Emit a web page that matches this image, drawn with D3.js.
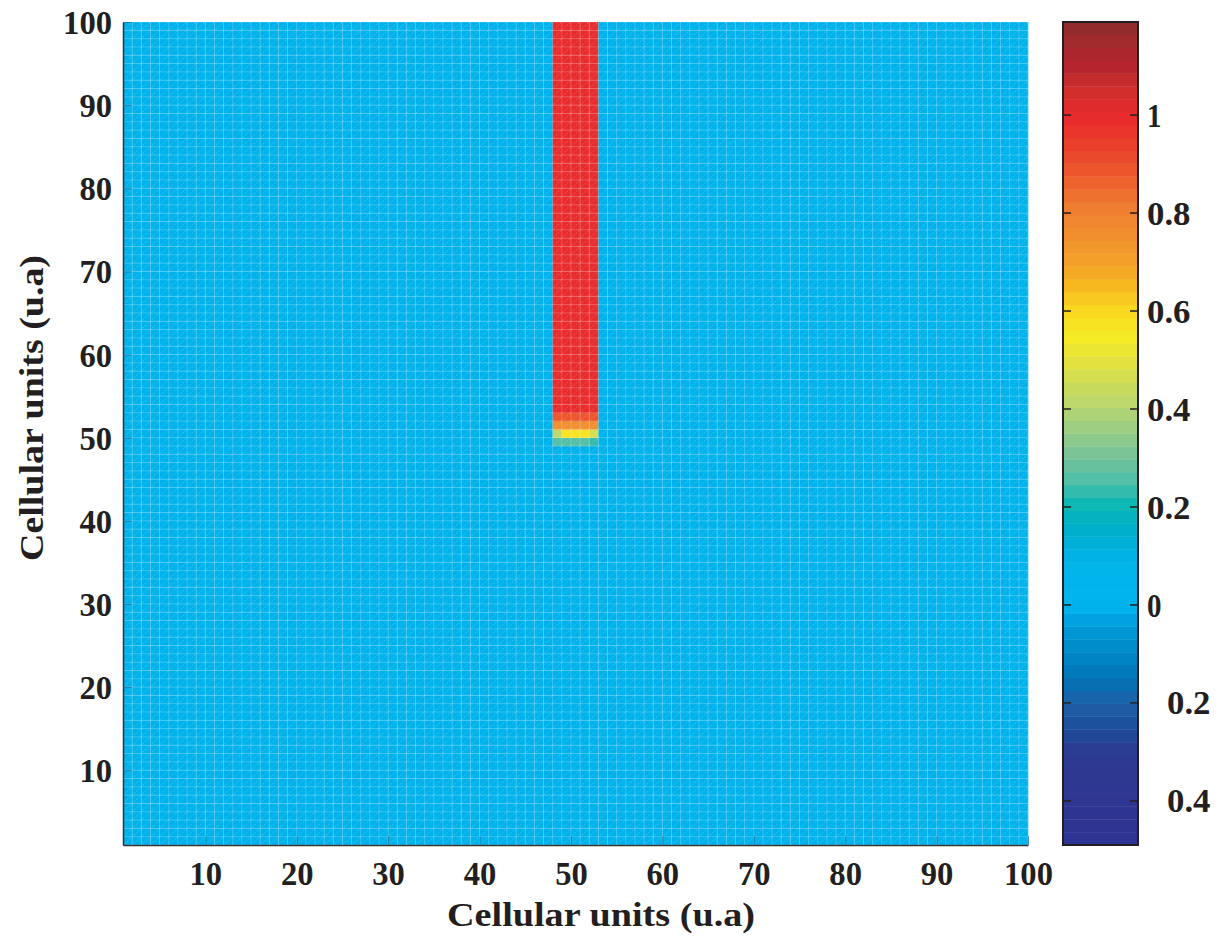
<!DOCTYPE html>
<html>
<head>
<meta charset="utf-8">
<script src="https://cdn.jsdelivr.net/npm/d3@7/dist/d3.min.js"></script>
<style>
  body { margin: 0; background: #fff; }
  svg text { font-family: "Liberation Serif", "Times New Roman", serif; font-weight: bold; fill: #231f20; }
</style>
</head>
<body>
<div id="main"></div>
<script>
// grid of cellular units (vertices 1..100)
var gridX = d3.range(1, 101);
var gridY = d3.range(1, 101);

// field values: 0 everywhere except a front travelling down a stripe
var baseValue = 0;
var stripeCols = [48, 49, 50, 51, 52];
var stripeTopRows = d3.range(53, 100);
var stripeTopValue = 1.0;
var frontRows = [52, 51, 50, 49];
var frontValues = [
    [0.9, 0.9, 0.9, 0.9, 0.9],
    [0.76, 0.76, 0.76, 0.76, 0.76],
    [0.42, 0.57, 0.57, 0.57, 0.48],
    [0.25, 0.26, 0.26, 0.26, 0.23]
];

var xTicks = [10, 20, 30, 40, 50, 60, 70, 80, 90, 100];
var yTicks = [10, 20, 30, 40, 50, 60, 70, 80, 90, 100];
var cbTicks = [1, 0.8, 0.6, 0.4, 0.2, 0, -0.2, -0.4];
var cbDomain = [-0.49, 1.19];
var cbLevels = 64;

// colormap anchors
var cmapStops = [-0.49, -0.3, -0.25, -0.2, -0.15, -0.1, -0.05, 0, 0.1, 0.15, 0.2, 0.25, 0.3, 0.35, 0.4,
    0.45, 0.5, 0.55, 0.6, 0.65, 0.7, 0.8, 0.85, 0.9, 1.0, 1.05, 1.1, 1.15, 1.19];
var cmapColors = ['#2e3192', '#2e3a91', '#1a4e9a', '#2060a8', '#0074b6', '#0088c6', '#0098d6', '#00b4ee',
    '#00b2e6', '#00aecc', '#06b7b6', '#4dbea8', '#74c29a', '#94cb87', '#b5d572',
    '#cbdb58', '#e4e23c', '#f6ec23', '#f9d91f', '#f6b81f', '#f3a02a', '#f08232', '#ef6a2e', '#ec4e2b',
    '#e8282c', '#d0302c', '#b5252e', '#a02a2c', '#8b2b2a'];

var margins = { top: 22, left: 123 };
var plotW = 905, plotH = 823;
var cbX = 1063, cbW = 75;

var x = d3.scaleLinear().domain([1, 100]).range([margins.left, margins.left + plotW]);
var y = d3.scaleLinear().domain([1, 100]).range([margins.top + plotH, margins.top]);
var cb = d3.scaleLinear().domain(cbDomain).range([margins.top + plotH, margins.top]);
var cmapLinear = d3.scaleLinear().domain(cmapStops).range(cmapColors).interpolate(d3.interpolateRgb);
var levelStep = (cbDomain[1] - cbDomain[0]) / cbLevels;
var levels = d3.range(cbLevels).map(function(k) { return cbDomain[0] + k * levelStep; });
var color = function(v) {
    var k = Math.min(cbLevels - 1, Math.max(0, Math.floor((v - cbDomain[0]) / levelStep)));
    return cmapLinear(levels[k] + levelStep / 2);
};

var valueAt = function(i, j) {
    var c = stripeCols.indexOf(i);
    if (c === -1) return baseValue;
    if (stripeTopRows.indexOf(j) !== -1) return stripeTopValue;
    var r = frontRows.indexOf(j);
    if (r !== -1) return frontValues[r][c];
    return baseValue;
};

var cells = [];
gridX.slice(0, -1).forEach(function(i) {
    gridY.slice(0, -1).forEach(function(j) {
        cells.push({ i: i, j: j, v: valueAt(i, j) });
    });
});

var svg = d3.select('#main').append('svg')
    .attr('width', 1221).attr('height', 943);

// cells
svg.append('g').selectAll('rect').data(cells)
    .enter().append('rect')
    .attr('x', function(d) { return x(d.i); })
    .attr('y', function(d) { return y(d.j + 1); })
    .attr('width', function(d) { return x(d.i + 1) - x(d.i) + 0.3; })
    .attr('height', function(d) { return y(d.j) - y(d.j + 1) + 0.3; })
    .attr('fill', function(d) { return color(d.v); });

// mesh
var mesh = svg.append('g').attr('stroke', '#fff').attr('fill', 'none');
mesh.selectAll('.vl').data(gridX).enter().append('line')
    .attr('x1', function(d) { return x(d); }).attr('x2', function(d) { return x(d); })
    .attr('y1', y(1)).attr('y2', y(100))
    .attr('stroke-opacity', 0.22).attr('stroke-width', 1);
mesh.selectAll('.hl').data(gridY).enter().append('line')
    .attr('y1', function(d) { return y(d); }).attr('y2', function(d) { return y(d); })
    .attr('x1', x(1)).attr('x2', x(100))
    .attr('stroke-opacity', 0.22).attr('stroke-width', 1);
var diagK = d3.range(-98, 99);
mesh.selectAll('.dl').data(diagK).enter().append('line')
    .attr('x1', function(k) { return x(Math.max(1, 1 + k)); })
    .attr('y1', function(k) { return y(Math.max(1, 1 - k)); })
    .attr('x2', function(k) { return x(Math.min(100, 100 + k)); })
    .attr('y2', function(k) { return y(Math.min(100, 100 - k)); })
    .attr('stroke-opacity', 0.3).attr('stroke-width', 0.8)
    .attr('stroke-dasharray', '1.5,1.5');

// axes
var xAxis = d3.axisBottom(x).tickValues(xTicks).tickSizeInner(-9).tickSizeOuter(0).tickPadding(16);
var yAxis = d3.axisLeft(y).tickValues(yTicks).tickSizeInner(-9).tickSizeOuter(0).tickPadding(11);
var gx = svg.append('g').attr('transform', 'translate(0,' + (margins.top + plotH) + ')').call(xAxis);
var gy = svg.append('g').attr('transform', 'translate(' + margins.left + ',0)').call(yAxis);
[gx, gy].forEach(function(g) {
    g.select('.domain').attr('stroke', '#333').attr('stroke-width', 1.5);
    g.selectAll('.tick line').attr('stroke', '#1a6a90').attr('stroke-width', 1).attr('stroke-opacity', 0.7);
    g.selectAll('.tick text').style('font-size', '34px').attr('fill', '#231f20')
        .attr('textLength', function(d) { return String(d).length * 16.3; })
        .attr('lengthAdjust', 'spacingAndGlyphs');
});
gy.selectAll('.tick text').attr('dy', '0.34em');

svg.append('text')
    .attr('x', 601).attr('y', 926)
    .style('text-anchor', 'middle').style('font-size', '34px')
    .attr('textLength', 308).attr('lengthAdjust', 'spacingAndGlyphs')
    .text('Cellular units (u.a)');
svg.append('text')
    .attr('transform', 'translate(43,408) rotate(-90)')
    .style('text-anchor', 'middle').style('font-size', '34px')
    .attr('textLength', 306).attr('lengthAdjust', 'spacingAndGlyphs')
    .text('Cellular units (u.a)');

// colorbar
var cbg = svg.append('g');
cbg.selectAll('rect').data(levels).enter().append('rect')
    .attr('x', cbX).attr('width', cbW)
    .attr('y', function(d) { return cb(d + levelStep); })
    .attr('height', function(d) { return cb(d) - cb(d + levelStep) + 0.4; })
    .attr('fill', function(d) { return cmapLinear(d + levelStep / 2); });
cbg.append('rect')
    .attr('x', cbX).attr('y', margins.top).attr('width', cbW).attr('height', plotH)
    .attr('fill', 'none').attr('stroke', '#231f20').attr('stroke-width', 2);
cbg.selectAll('.tl').data(cbTicks).enter().append('line')
    .attr('x1', cbX).attr('x2', cbX + 8)
    .attr('y1', function(d) { return cb(d); }).attr('y2', function(d) { return cb(d); })
    .attr('stroke', '#231f20').attr('stroke-width', 1.5);
cbg.selectAll('.tr').data(cbTicks).enter().append('line')
    .attr('x1', cbX + cbW - 8).attr('x2', cbX + cbW)
    .attr('y1', function(d) { return cb(d); }).attr('y2', function(d) { return cb(d); })
    .attr('stroke', '#231f20').attr('stroke-width', 1.5);
cbg.selectAll('text').data(cbTicks).enter().append('text')
    .attr('x', function(d) { return d < 0 ? 1167 : 1147; })
    .attr('y', function(d) { return cb(d); })
    .attr('dy', '0.34em')
    .style('font-size', '34px')
    .attr('textLength', function(d) { return d3.format('')(Math.abs(d)).length * 14.5; })
    .attr('lengthAdjust', 'spacingAndGlyphs')
    .text(function(d) { return d3.format('')(Math.abs(d)); });
</script>
</body>
</html>
